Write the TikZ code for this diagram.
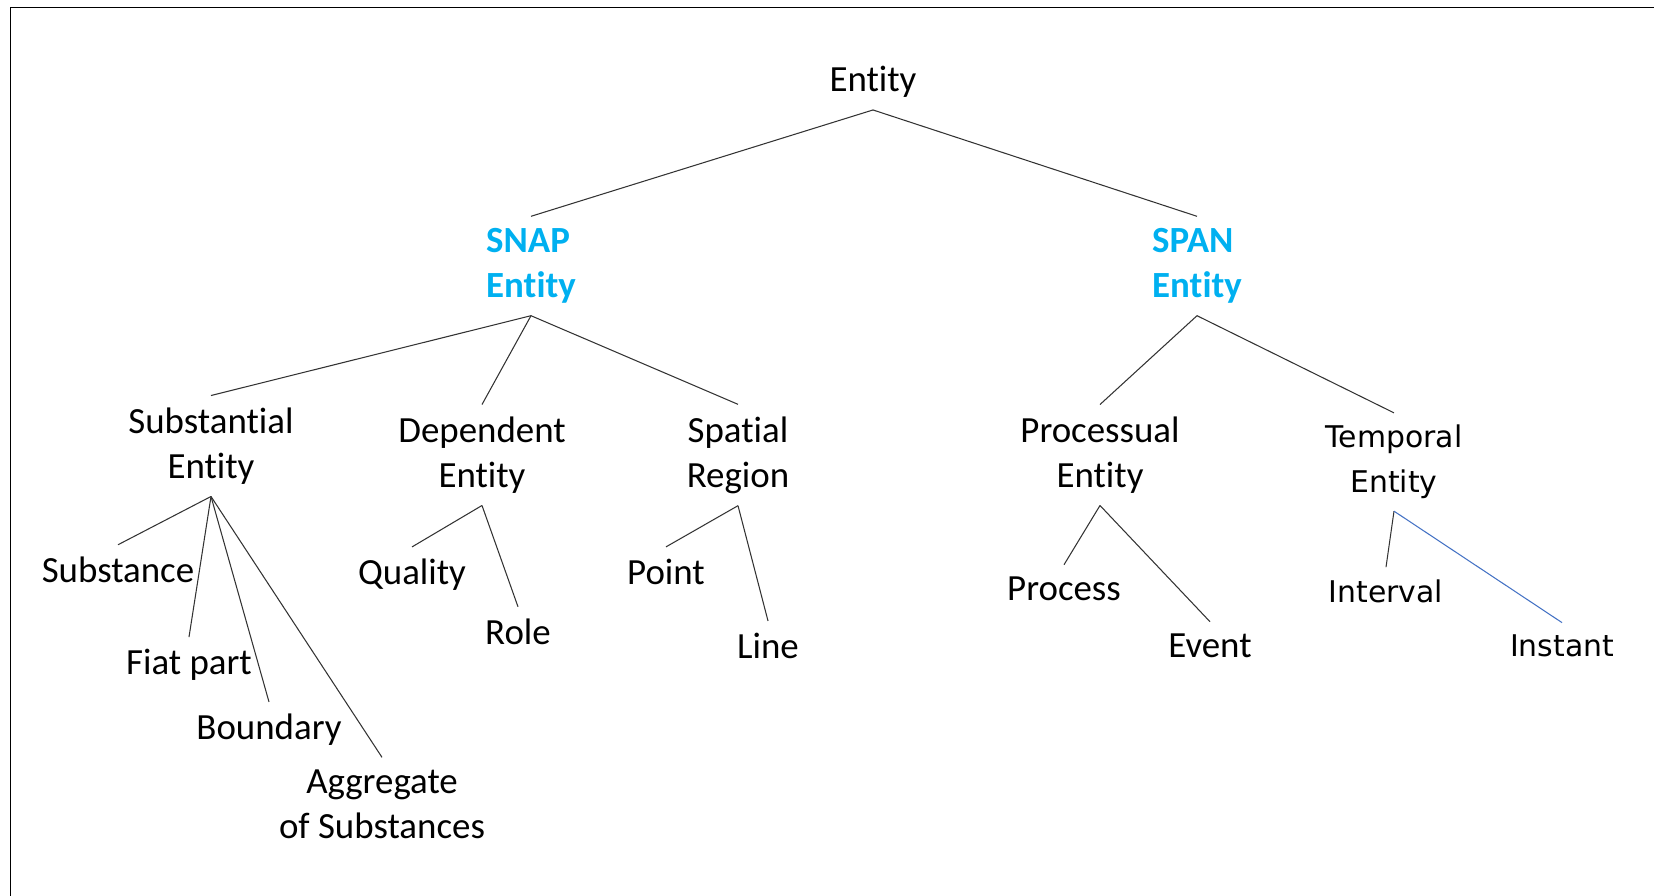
\documentclass[tikz,border=0pt]{standalone}
\usepackage{fontspec}
\setmainfont{Carlito}[RawFeature={-liga;-clig;-calt}]
\newfontfamily\widesans{DejaVu Sans}
\definecolor{snapblue}{RGB}{0,176,240}
\definecolor{linkblue}{RGB}{68,114,196}

\begin{document}
\begin{tikzpicture}[x=0.02cm,y=-0.02cm,
  every node/.style={font=\fontsize{21}{25.5}\selectfont,align=center,inner sep=0pt,outer sep=7pt},
  top/.style={font=\fontsize{21}{25.5}\selectfont\bfseries,text=snapblue,align=left},
  wide/.style={font=\widesans\fontsize{17}{25.5}\selectfont},
  branch/.style={draw=black!80,line width=0.6pt}]
\useasboundingbox (0,0) rectangle (1654,896);
\draw[line width=1pt] (10.5,900) -- (10.5,7.5) -- (1660,7.5);

\node (entity) at (873,82) {Entity};

\node[top] (snap) at (531,266) {SNAP\\Entity};
\node[top] (span) at (1197,266) {SPAN\\Entity};

\node (substantial) at (211,446) {Substantial\\Entity};
\node (dependent) at (482,455) {Dependent\\Entity};
\node (spatial) at (738,455) {Spatial\\Region};
\node (processual) at (1100,455) {Processual\\Entity};
\node[wide] (temporal) at (1394,462) {Temporal\\Entity};

\node (substance) at (118,570) {Substance};
\node (fiat) at (189,665) {Fiat part};
\node (boundary) at (269,730) {Boundary};
\node (aggregate) at (382,804) {Aggregate\\of Substances};
\node (quality) at (412,575) {Quality};
\node (role) at (518,632) {Role};
\node (point) at (666,572) {Point};
\node (line) at (768,646) {Line};
\node (process) at (1064,589) {Process};
\node (event) at (1210,646) {Event};
\node[wide] (interval) at (1386,591) {Interval};
\node[wide] (instant) at (1562,646) {Instant};

\path[branch] (entity.south) edge (snap.north) edge (span.north);
\path[branch] (snap.south) edge (substantial.north) edge (dependent.north) edge (spatial.north);
\path[branch] (span.south) edge (processual.north) edge (temporal.north);
\path[branch] (substantial.south) edge (substance.north) edge (fiat.north)
  edge (boundary.north) edge (aggregate.north);
\path[branch] (dependent.south) edge (quality.north) edge (role.north);
\path[branch] (spatial.south) edge (point.north) edge (line.north);
\path[branch] (processual.south) edge (process.north) edge (event.north);
\path[branch] (temporal.south) edge (interval.north);
\path[branch,draw=linkblue] (temporal.south) edge (instant.north);
\end{tikzpicture}
\end{document}
